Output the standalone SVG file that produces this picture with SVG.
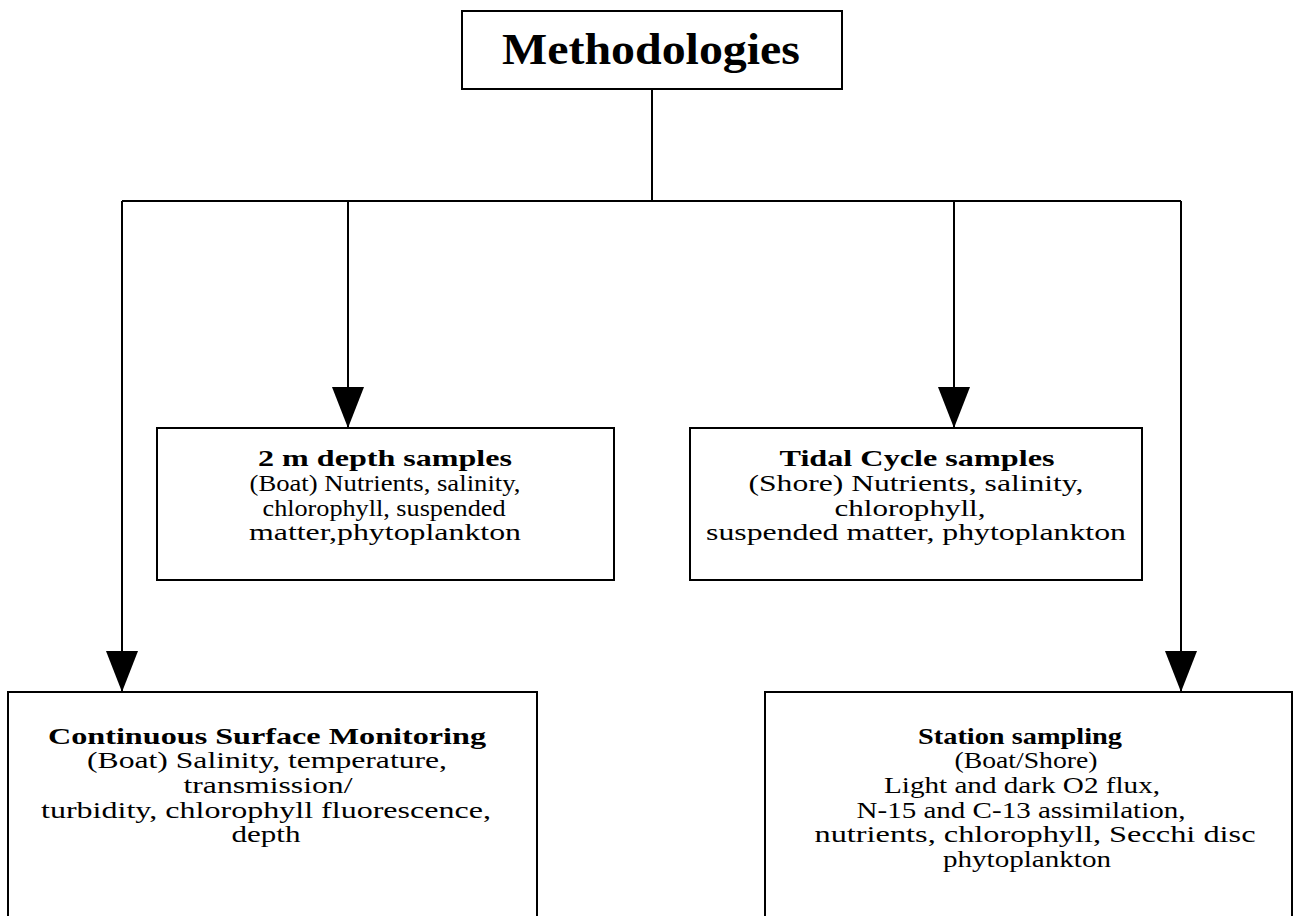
<svg xmlns="http://www.w3.org/2000/svg" width="1294" height="916" viewBox="0 0 1294 916">
<style>
.box{fill:#fff;stroke:#000;stroke-width:2}
.ln{fill:none;stroke:#000;stroke-width:2}
text{font-family:"Liberation Serif","Times New Roman",serif;fill:#000;text-anchor:middle;font-size:24px}
.b{font-weight:bold}
.title{font-size:45px;font-weight:bold}
</style>
<defs>
<marker id="ah" markerUnits="userSpaceOnUse" markerWidth="42" markerHeight="32" refX="41" refY="16" orient="auto">
<path d="M0,0 L41,16 L0,32 Z" fill="#000"/>
</marker>
</defs>
<rect width="1294" height="916" fill="#fff"/>
<g id="connectors">
<path class="ln" d="M652,89 V201"/>
<path class="ln" d="M122,201 H1181"/>
<path class="ln" d="M122,201 V692" marker-end="url(#ah)"/>
<path class="ln" d="M348,201 V428" marker-end="url(#ah)"/>
<path class="ln" d="M954,201 V428" marker-end="url(#ah)"/>
<path class="ln" d="M1181,201 V692" marker-end="url(#ah)"/>
</g>
<g id="methodologies">
<rect class="box" x="462" y="11" width="380" height="78"/>
<text class="title" x="651" y="64" textLength="298" lengthAdjust="spacingAndGlyphs">Methodologies</text>
</g>
<g id="depth2m">
<rect class="box" x="157" y="428" width="457" height="152"/>
<text class="b" x="385" y="466" textLength="254" lengthAdjust="spacingAndGlyphs">2 m depth samples</text>
<text x="385" y="491" textLength="271" lengthAdjust="spacingAndGlyphs">(Boat) Nutrients, salinity,</text>
<text x="384" y="516" textLength="243" lengthAdjust="spacingAndGlyphs">chlorophyll, suspended</text>
<text x="385" y="540" textLength="272" lengthAdjust="spacingAndGlyphs">matter,phytoplankton</text>
</g>
<g id="tidal">
<rect class="box" x="690" y="428" width="452" height="152"/>
<text class="b" x="917" y="466" textLength="275" lengthAdjust="spacingAndGlyphs">Tidal Cycle samples</text>
<text x="916" y="491" textLength="335" lengthAdjust="spacingAndGlyphs">(Shore) Nutrients, salinity,</text>
<text x="910" y="516" textLength="151" lengthAdjust="spacingAndGlyphs">chlorophyll,</text>
<text x="916" y="540" textLength="420" lengthAdjust="spacingAndGlyphs">suspended matter, phytoplankton</text>
</g>
<g id="continuous">
<rect class="box" x="8" y="692" width="529" height="250"/>
<text class="b" x="267" y="744" textLength="438" lengthAdjust="spacingAndGlyphs">Continuous Surface Monitoring</text>
<text x="267" y="768" textLength="360" lengthAdjust="spacingAndGlyphs">(Boat) Salinity, temperature,</text>
<text x="268" y="793" textLength="169" lengthAdjust="spacingAndGlyphs">transmission/</text>
<text x="266" y="818" textLength="450" lengthAdjust="spacingAndGlyphs">turbidity, chlorophyll fluorescence,</text>
<text x="266" y="842" textLength="69" lengthAdjust="spacingAndGlyphs">depth</text>
</g>
<g id="station">
<rect class="box" x="765" y="692" width="527" height="250"/>
<text class="b" x="1020" y="744" textLength="204" lengthAdjust="spacingAndGlyphs">Station sampling</text>
<text x="1026" y="768" textLength="143" lengthAdjust="spacingAndGlyphs">(Boat/Shore)</text>
<text x="1022" y="793" textLength="276" lengthAdjust="spacingAndGlyphs">Light and dark O2 flux,</text>
<text x="1021" y="818" textLength="329" lengthAdjust="spacingAndGlyphs">N-15 and C-13 assimilation,</text>
<text x="1035" y="842" textLength="441" lengthAdjust="spacingAndGlyphs">nutrients, chlorophyll, Secchi disc</text>
<text x="1027" y="867" textLength="168" lengthAdjust="spacingAndGlyphs">phytoplankton</text>
</g>
</svg>
